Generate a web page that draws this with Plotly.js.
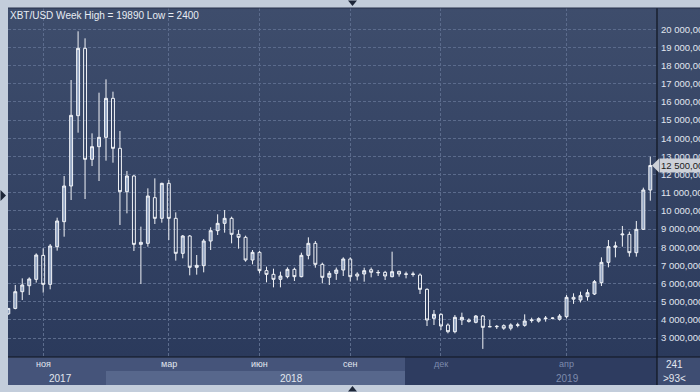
<!DOCTYPE html>
<html>
<head>
<meta charset="utf-8">
<script src="https://cdn.plot.ly/plotly-3.0.1.min.js"></script>
<style>
html,body{margin:0;padding:0;background:#c3cddb;overflow:hidden}
#chart{width:700px;height:392px}
</style>
</head>
<body>
<div id="chart"></div>
<script>
// Weekly XBT/USD bars
const open  = [4330,4630,5550,5880,6230,7550,5955,8030,9406,11370,15244,18952,12840,13536,14050,16198,13445,11058,11921,8157,
               8213,10728,9590,11517,9590,7663,8617,6892,6984,8342,8911,9315,9590,8709,8544,7295,7718,6708,6506,6231,
               6378,6782,6378,7553,8213,7057,6341,6561,6744,7350,6520,6524,6760,6590,6616,6377,6671,6530,6500,6469,
               5680,4083,4303,3716,3348,3991,3990,3862,4211,3630,3620,3680,3540,3700,3697,3960,3930,4060,4080,4030,
               4174,5240,5093,5276,5423,6047,7167,8000,8680,8709,7699,8984,11150];
const high  = [4650,5920,6285,6340,7660,7940,8176,9626,11920,17208,19890,19502,14270,16510,17245,16565,14400,12196,11976,9131,
               11242,11792,11550,11700,9921,8672,8672,7571,8452,9095,9811,10049,9682,8948,8636,7846,7790,6929,6818,6653,
               6892,6874,7700,8544,8342,7149,6690,6880,7442,7442,6620,6873,6880,6744,6700,7754,6700,6653,6653,6561,
               5735,4542,4358,3807,4266,4395,4080,4266,4266,3990,3715,3752,3807,3840,4303,4119,4138,4211,4140,4320,
               5367,5460,5552,5680,6194,7442,8397,8305,9168,8856,9443,11279,12986];
const low   = [4280,4580,5090,5370,6050,5500,5680,7810,8580,10600,14307,10654,12470,11646,12765,12655,9222,9865,7790,5973,
               8029,9278,9351,8396,7259,7388,6451,6488,6616,7846,8672,8801,8213,7920,7204,7057,6561,6066,5790,5790,
               6286,6139,6341,7332,6873,6011,5919,6200,6414,6102,6170,6102,6340,6414,6194,6341,6377,6286,6377,5423,
               3660,3716,3440,3257,3257,3716,3850,3807,2400,3600,3500,3450,3420,3590,3623,3844,3850,3900,4030,3960,
               4082,4880,4960,5056,5368,5864,6892,7442,8030,7479,7479,8948,10563];
const close = [4630,5550,5920,6250,7570,5955,8066,9443,11370,15262,18952,12839,13536,14050,16198,13445,11058,11921,8157,8268,
               10820,9590,11517,9590,7663,8617,6892,7002,8342,8911,9315,9590,8709,8544,7295,7718,6708,6506,6231,6414,
               6782,6378,7553,8213,7057,6341,6561,6745,7350,6377,6410,6708,6620,6610,6414,6653,6524,6510,6520,5680,
               3991,4303,3660,3348,4138,4138,3920,4211,3587,3620,3640,3540,3720,3720,3936,3990,4064,4090,4095,4211,
               5239,5140,5331,5497,6102,7167,8030,8070,8720,7699,8984,11150,12500];
const barIndex = open.map((_, i) => i);

const priceTicks = [3000,4000,5000,6000,7000,8000,9000,10000,11000,12000,13000,14000,15000,16000,17000,18000,19000,20000];
const priceTickText = ['3 000,000','4 000,000','5 000,000','6 000,000','7 000,000','8 000,000','9 000,000','10 000,000',
                       '11 000,000','12 000,000','13 000,000','14 000,000','15 000,000','16 000,000','17 000,000',
                       '18 000,000','19 000,000','20 000,000'];
const monthTickBars = [5,23,36,49,62,80];
const monthLabels = ['ноя','мар','июн','сен','дек','апр'];
const yearLabels = ['2017','2018','2019'];
const yearLabelBars = [7.5,40.6,80.1];
const lastPrice = 12500;
const lastPriceText = '12 500,000';

// pixel -> paper helpers (layout only)
const fx = px => (px - 8) / 649;
const fy = py => (357 - py) / 349;

const gradSvg = '<svg xmlns="http://www.w3.org/2000/svg" width="10" height="100" viewBox="0 0 10 100" preserveAspectRatio="none">' +
  '<defs><linearGradient id="g" x1="0" y1="0" x2="0" y2="1"><stop offset="0" stop-color="#3e4d6c"/><stop offset="1" stop-color="#2b3a5c"/></linearGradient></defs>' +
  '<rect width="10" height="100" fill="url(#g)"/></svg>';
const gradSrc = 'data:image/svg+xml;charset=utf-8,' + encodeURIComponent(gradSvg);

const rect = (x0, y0, x1, y1, color, layer) => ({type:'rect', xref:'paper', yref:'paper',
  x0:fx(x0), x1:fx(x1), y0:fy(y1), y1:fy(y0), fillcolor:color, line:{width:0}, layer:layer || 'below'});
const tri = (pts, color) => ({type:'path', xref:'paper', yref:'paper', layer:'above',
  path:'M' + pts.map(p => fx(p[0]) + ',' + fy(p[1])).join(' L') + ' Z', fillcolor:color, line:{width:0}});

const dimColor = '#7d8bad';
const lightColor = '#e2e7ef';
const monthColors = monthLabels.map((_, i) => i >= 4 ? dimColor : lightColor);
const yearColors = [lightColor, lightColor, dimColor];
const fontFam = 'Liberation Sans, Arial';

const annotations = [];
monthLabels.forEach((t, i) => annotations.push({text:t, x:monthTickBars[i], xref:'x', y:fy(364), yref:'paper',
  showarrow:false, xanchor:'center', yanchor:'middle', font:{family:fontFam, size:9, color:monthColors[i]}}));
yearLabels.forEach((t, i) => annotations.push({text:t, x:yearLabelBars[i], xref:'x', y:fy(378), yref:'paper',
  showarrow:false, xanchor:'center', yanchor:'middle', font:{family:fontFam, size:10, color:yearColors[i]}}));
annotations.push({text:'241', x:fx(674), xref:'paper', xanchor:'center', y:fy(364), yref:'paper', yanchor:'middle',
  showarrow:false, font:{family:fontFam, size:10, color:lightColor}});
annotations.push({text:'&gt;93&lt;', x:fx(674), xref:'paper', xanchor:'center', y:fy(378), yref:'paper', yanchor:'middle',
  showarrow:false, font:{family:fontFam, size:10, color:lightColor}});
annotations.push({text:lastPriceText, x:fx(659), xref:'paper', xanchor:'left', y:lastPrice, yref:'y', yanchor:'middle',
  showarrow:false, bgcolor:'#cdd1d8', borderpad:1, font:{family:fontFam, size:9.5, color:'#1b1b1b'}});

const shapes = [
  rect(8, 357, 405, 371, '#45547a'),
  rect(8, 371, 106, 385, '#45547a'),
  rect(106, 371, 405, 385, '#57678c'),
  rect(405, 357, 657, 385, '#2e3c60'),
  rect(657, 357, 700, 385, '#3e4d72'),
  {type:'line', xref:'paper', yref:'paper', x0:fx(8), x1:fx(700), y0:fy(357), y1:fy(357), line:{color:'#10151f', width:1.2}, layer:'above'},
  {type:'line', xref:'paper', yref:'paper', x0:fx(657), x1:fx(657), y0:fy(8), y1:fy(385), line:{color:'#10151f', width:1.2}, layer:'above'},
  {type:'line', xref:'paper', yref:'paper', x0:fx(8), x1:fx(700), y0:fy(8), y1:fy(8), line:{color:'#26314a', width:1}, layer:'above'},
  tri([[348,0.5],[357,0.5],[352.5,6]], '#1d2638'),
  tri([[348,391.5],[357,391.5],[352.5,386]], '#1d2638'),
  tri([[0.5,190],[0.5,201],[6,195.5]], '#1d2638'),
  {type:'path', xref:'paper', yref:'y', layer:'above',
   path:'M' + fx(652) + ',' + lastPrice + ' L' + fx(659) + ',' + (lastPrice + 380) + ' L' + fx(659) + ',' + (lastPrice - 380) + ' Z',
   fillcolor:'#cdd1d8', line:{width:0}}
];

const trace = {
  type:'candlestick', x:barIndex, open:open, high:high, low:low, close:close,
  increasing:{line:{color:'#f1f3f7', width:1}, fillcolor:'#92a4c2'},
  decreasing:{line:{color:'#f1f3f7', width:1}, fillcolor:'rgba(0,0,0,0)'},
  whiskerwidth:0, hoverinfo:'skip'
};

const gridColor = '#5b6b8c';
const layout = {
  width:700, height:392,
  margin:{l:8, r:43, t:8, b:35, pad:0},
  paper_bgcolor:'#c3cddb',
  plot_bgcolor:'#34436a',
  showlegend:false,
  boxgap:0.4,
  title:{text:'XBT/USD Week High = 19890 Low = 2400', xref:'container', yref:'container',
         x:10/700, xanchor:'left', y:1 - 15/392, yanchor:'middle',
         font:{family:fontFam, size:10, color:'#e8ecf3'}},
  xaxis:{type:'linear', range:[-0.043, 92.96], tickvals:monthTickBars, showticklabels:false, ticks:'',
         showgrid:true, gridcolor:gridColor, griddash:'3px,2px', gridwidth:1, zeroline:false, showline:false,
         rangeslider:{visible:false}, fixedrange:true},
  yaxis:{side:'right', range:[1954, 21173], tickvals:priceTicks, ticktext:priceTickText, ticks:'',
         showgrid:true, gridcolor:gridColor, griddash:'3px,2px', gridwidth:1, zeroline:false, showline:false,
         ticklabelstandoff:3, tickfont:{family:fontFam, size:9.5, color:'#e1e6ef'}, fixedrange:true},
  images:[
    {source:gradSrc, xref:'paper', yref:'paper', x:0, y:1, sizex:1, sizey:1, sizing:'stretch', xanchor:'left', yanchor:'top', layer:'below'},
    {source:gradSrc, xref:'paper', yref:'paper', x:1, y:1, sizex:fx(700) - 1, sizey:1, sizing:'stretch', xanchor:'left', yanchor:'top', layer:'below'}
  ],
  shapes:shapes,
  annotations:annotations
};

Plotly.newPlot('chart', [trace], layout, {staticPlot:true, displayModeBar:false});
</script>
</body>
</html>
